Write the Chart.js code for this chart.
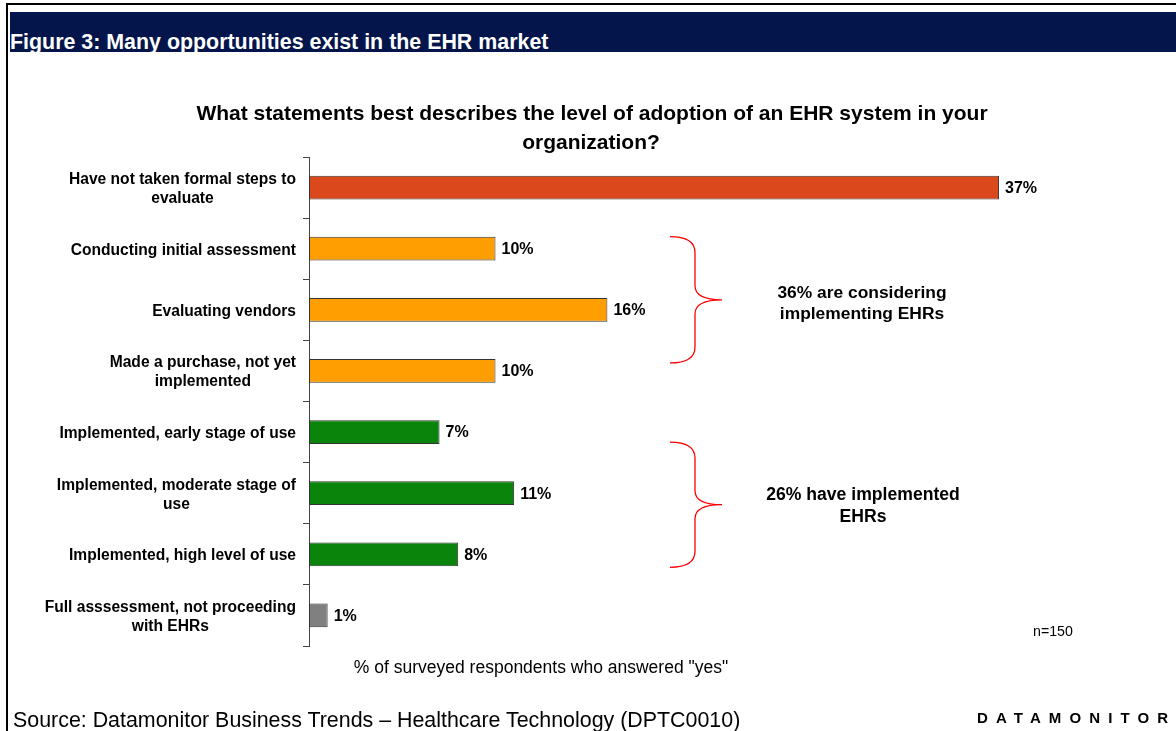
<!DOCTYPE html>
<html>
<head>
<meta charset="utf-8">
<script src="https://cdn.jsdelivr.net/npm/chart.js@4.4.1/dist/chart.umd.min.js"></script>
<style>
    body { margin: 0; width: 1176px; height: 731px; position: relative; overflow: hidden; background: #fff;
           font-family: Arial, "Liberation Sans", sans-serif; color: #000; }
    #chartBox { position: absolute; left: 0; top: 0; width: 1176px; height: 731px; }
    .abs { position: absolute; white-space: nowrap; }
    .mid { transform: translateX(-50%); text-align: center; }
</style>
</head>
<body>
<div class="abs" style="left:6px;top:3px;width:2px;height:728px;background:#000"></div>
<div class="abs" style="left:6px;top:3px;width:1170px;height:2px;background:#000"></div>
<div class="abs" style="left:10px;top:12px;width:1166px;height:40px;background:#03154a"></div>
<div class="abs" style="left:10px;top:29px;line-height:26px;font-size:21.4px;font-weight:bold;color:#fff">Figure 3: Many opportunities exist in the EHR market</div>

<div id="chartBox"><canvas id="ehrChart"></canvas></div>

<div class="abs mid" style="left:592px;top:100px;line-height:26px;font-size:21px;font-weight:bold">What statements best describes the level of adoption of an EHR system in your</div>
<div class="abs mid" style="left:591px;top:129px;line-height:26px;font-size:21px;font-weight:bold">organization?</div>

<div class="abs mid" style="left:862px;top:282px;line-height:21px;font-size:17.4px;font-weight:bold">36% are considering<br>implementing EHRs</div>
<div class="abs mid" style="left:863px;top:483px;line-height:22px;font-size:17.6px;font-weight:bold">26% have implemented<br>EHRs</div>

<div class="abs" style="left:1033px;top:622px;line-height:18px;font-size:14.2px">n=150</div>
<div class="abs mid" style="left:541px;top:656px;line-height:22px;font-size:17.5px">% of surveyed respondents who answered "yes"</div>

<div class="abs" style="left:13px;top:707px;line-height:26px;font-size:21.4px">Source: Datamonitor Business Trends – Healthcare Technology (DPTC0010)</div>
<div class="abs" style="left:977px;top:708px;line-height:20px;font-size:15px;font-weight:bold;letter-spacing:8.1px">DATAMONITOR</div>

<script>
// Survey answers
const categories = [
    ['Have not taken formal steps to', 'evaluate'],
    ['Conducting initial assessment'],
    ['Evaluating vendors'],
    ['Made a purchase, not yet', 'implemented'],
    ['Implemented, early stage of use'],
    ['Implemented, moderate stage of', 'use'],
    ['Implemented, high level of use'],
    ['Full asssessment, not proceeding', 'with EHRs']
];
const shares = [37, 10, 16, 10, 7, 11, 8, 1];
const barColors = ['#da481c', '#ff9e00', '#ff9e00', '#ff9e00', '#0a840a', '#0a840a', '#0a840a', '#808080'];

// brace groups: first and last category covered
const braceGroups = [[1, 3], [4, 6]];

const labelFont = 'bold 15.6px Arial, "Liberation Sans", sans-serif';
const valueFont = 'bold 16px Arial, "Liberation Sans", sans-serif';

// Category labels: right aligned block, lines centred inside it
const categoryLabels = {
    id: 'categoryLabels',
    afterDraw(chart) {
        const ctx = chart.ctx;
        const yScale = chart.scales.y;
        ctx.save();
        ctx.font = labelFont;
        ctx.fillStyle = '#000';
        ctx.textAlign = 'center';
        ctx.textBaseline = 'middle';
        categories.forEach((lines, i) => {
            const widest = Math.max(...lines.map(l => ctx.measureText(l).width));
            const cx = chart.chartArea.left - 13 - widest / 2;
            const cy = yScale.getPixelForTick(i) + 1.5;
            lines.forEach((line, j) => {
                ctx.fillText(line, cx, cy + (j - (lines.length - 1) / 2) * 19);
            });
        });
        ctx.restore();
    }
};

// Value labels at the end of each bar
const valueLabels = {
    id: 'valueLabels',
    afterDatasetsDraw(chart) {
        const ctx = chart.ctx;
        const meta = chart.getDatasetMeta(0);
        ctx.save();
        ctx.font = valueFont;
        ctx.fillStyle = '#000';
        ctx.textAlign = 'left';
        ctx.textBaseline = 'middle';
        meta.data.forEach((bar, i) => {
            ctx.fillText(shares[i] + '%', bar.x + 6, bar.y + 1);
        });
        ctx.restore();
    }
};

// Red curly braces grouping the answers
const braces = {
    id: 'braces',
    afterDraw(chart) {
        const ctx = chart.ctx;
        const yScale = chart.scales.y;
        const offsets = [[-12, -8], [10, 13]];
        ctx.save();
        ctx.strokeStyle = '#ff0000';
        ctx.lineWidth = 1.3;
        braceGroups.forEach((g, k) => {
            const top = yScale.getPixelForTick(g[0]) + offsets[k][0];
            const bottom = yScale.getPixelForTick(g[1]) + offsets[k][1];
            const mid = (top + bottom) / 2;
            const x0 = 670, x1 = 695, tip = 722;
            ctx.beginPath();
            ctx.moveTo(x0, top);
            ctx.quadraticCurveTo(x1, top, x1, top + 16);
            ctx.lineTo(x1, mid - 14);
            ctx.quadraticCurveTo(x1, mid, tip, mid);
            ctx.quadraticCurveTo(x1, mid, x1, mid + 14);
            ctx.lineTo(x1, bottom - 16);
            ctx.quadraticCurveTo(x1, bottom, x0, bottom);
            ctx.stroke();
        });
        ctx.restore();
    }
};

const ctx = document.getElementById('ehrChart').getContext('2d');
new Chart(ctx, {
    type: 'bar',
    data: {
        labels: categories,
        datasets: [{
            data: shares,
            backgroundColor: barColors,
            borderColor: '#333',
            borderWidth: 1,
            borderSkipped: false,
            categoryPercentage: 1,
            barPercentage: 0.39
        }]
    },
    options: {
        indexAxis: 'y',
        responsive: true,
        maintainAspectRatio: false,
        animation: false,
        events: [],
        layout: {
            padding: { left: 0, right: 121, top: 157, bottom: 85 }
        },
        plugins: {
            legend: { display: false },
            tooltip: { enabled: false }
        },
        scales: {
            x: {
                display: false,
                min: 0,
                max: 40
            },
            y: {
                grid: {
                    drawOnChartArea: false,
                    offset: true,
                    tickLength: 6,
                    color: '#444'
                },
                border: { color: '#444' },
                ticks: { display: false },
                afterFit: scale => { scale.width = 309; }
            }
        }
    },
    plugins: [categoryLabels, valueLabels, braces]
});
</script>
</body>
</html>
